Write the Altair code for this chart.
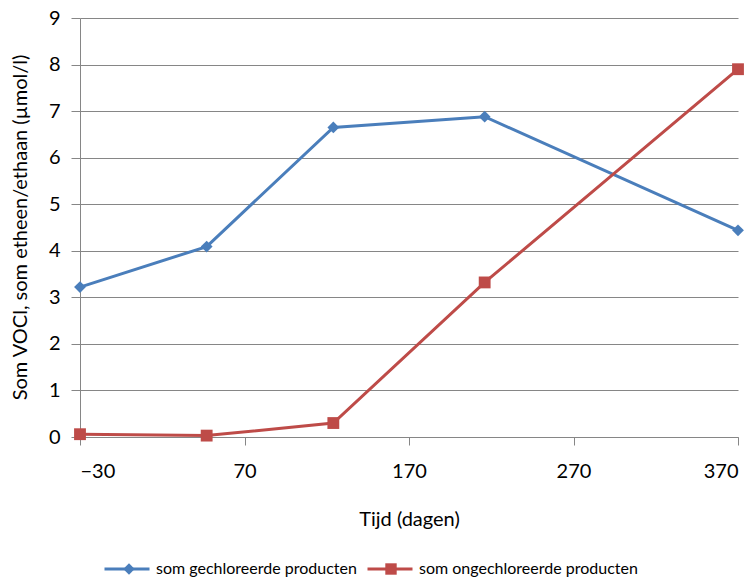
import altair as alt
import pandas as pd

# ---- data ----
days = [-30, 47, 124, 216, 370]
chlorinated = [3.22, 4.09, 6.65, 6.88, 4.44]
unchlorinated = [0.06, 0.03, 0.30, 3.32, 7.90]

series_names = ["som gechloreerde  producten", "som ongechloreerde  producten"]
series_colors = ["#4A7EBB", "#BE4B48"]
series_shapes = ["diamond", "square"]
x_ticks = [-30, 70, 170, 270, 370]
y_ticks = [0, 1, 2, 3, 4, 5, 6, 7, 8, 9]

# marker keys: same names with a marker suffix, so the marker legend stays separate
marker_names = [n + "*" for n in series_names]

rows = []
for d, v in zip(days, chlorinated):
    rows.append({"dag": d, "waarde": v, "reeks": series_names[0], "marker": marker_names[0]})
for d, v in zip(days, unchlorinated):
    rows.append({"dag": d, "waarde": v, "reeks": series_names[1], "marker": marker_names[1]})
df = pd.DataFrame(rows)

FONT = "Lato"
GRAY = "#868686"
FS = 20
LFS = 16

x_enc = alt.X(
    "dag:Q",
    scale=alt.Scale(domain=[-30, 370], nice=False, zero=False),
    axis=alt.Axis(
        values=x_ticks, grid=False, title="Tijd (dagen)",
        domainColor=GRAY, tickColor=GRAY, tickSize=8,
        labelFontSize=FS, labelPadding=16, labelFont=FONT, labelColor="#000",
        titleFont=FONT, titleFontSize=FS, titleFontWeight="normal", titleColor="#000",
        titleY=82, titleBaseline="middle",
    ),
)
y_enc = alt.Y(
    "waarde:Q",
    scale=alt.Scale(domain=[0, 9], nice=False),
    axis=alt.Axis(
        values=y_ticks, grid=True, gridColor=GRAY, title="Som VOCl, som etheen/ethaan (µmol/l)",
        domainColor=GRAY, tickColor=GRAY, tickSize=9,
        labelFontSize=FS, labelPadding=11, labelFont=FONT, labelColor="#000",
        titleFont=FONT, titleFontSize=FS, titleFontWeight="normal", titleColor="#000",
        titleX=-60, titleY=209, titleAngle=-90, titleBaseline="middle", titleAlign="center",
    ),
)

# legend for the lines (visible labels, line symbol)
leg_lines = alt.Legend(
    title=None, orient="none", legendX=23, legendY=527, direction="horizontal",
    symbolType="stroke", symbolSize=2025, symbolStrokeWidth=3,
    labelFont=FONT, labelFontSize=LFS, labelLimit=400,
    labelColor="#000", labelOffset=5, columnPadding=0, padding=0,
)
# legend for the markers, laid over the middle of the line symbols (labels hidden)
leg_marks = alt.Legend(
    title=None, orient="none", legendX=41, legendY=543, direction="horizontal",
    symbolSize=130, symbolStrokeWidth=0,
    labelFont=FONT, labelFontSize=LFS, labelLimit=400, labelOpacity=0,
    labelExpr="replace(datum.label, '*', '')",
    labelOffset=5, columnPadding=36, padding=0,
)

base = alt.Chart(df)

lines = base.mark_line(strokeWidth=3).encode(
    x=x_enc, y=y_enc,
    stroke=alt.Stroke("reeks:N", scale=alt.Scale(domain=series_names, range=series_colors), legend=leg_lines),
)

points = base.mark_point(filled=True, size=140, opacity=1).encode(
    x=x_enc, y=y_enc,
    color=alt.Color("marker:N", scale=alt.Scale(domain=marker_names, range=series_colors), legend=leg_marks),
    shape=alt.Shape("marker:N", scale=alt.Scale(domain=marker_names, range=series_shapes), legend=leg_marks),
)

chart = alt.layer(lines, points).properties(
    width=658, height=419,
    autosize=alt.AutoSizeParams(type="none"),
    padding={"left": 72, "top": 10, "right": 9, "bottom": 144},
    background="white",
).configure_view(stroke=None)

chart.save("out.html", embed_options={"renderer": "svg", "actions": False})
